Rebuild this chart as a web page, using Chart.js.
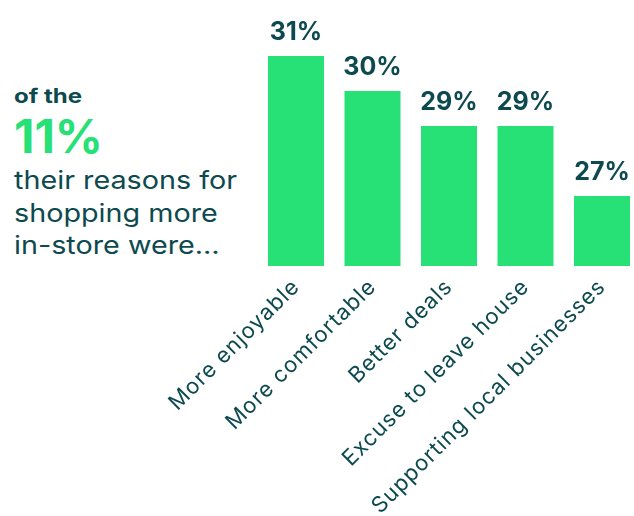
<!DOCTYPE html>
<html>
<head>
<meta charset="utf-8">
<script src="https://cdn.jsdelivr.net/npm/chart.js@4.4.1/dist/chart.umd.min.js"></script>
<style>
  html, body { margin: 0; padding: 0; background: #ffffff; overflow: hidden; width: 634px; height: 516px; }
  #wrap { position: absolute; left: 0; top: 0; width: 642px; height: 516px; }
  .intro { position: absolute; left: 14px; color: #0d4a50; font-family: Inter, sans-serif; white-space: nowrap; line-height: 1; transform-origin: 0 0; }
  .lead { font-size: 20px; font-weight: 700; top: 85.7px; transform: scaleX(1.2); }
  .big { font-size: 46px; font-weight: 700; color: #27e176; top: 113.2px; transform: scaleX(1.03); }
  .body { font-size: 25px; font-weight: 400; transform: scaleX(1.15); }
</style>
</head>
<body>
<div class="intro lead">of the</div>
<div class="intro big">11%</div>
<div class="intro body" style="top:168.4px">their reasons for</div>
<div class="intro body" style="top:200.9px">shopping more</div>
<div class="intro body" style="top:233.4px">in-store were…</div>
<div id="wrap"><canvas id="chart"></canvas></div>
<script>
// Reasons given for shopping more in-store, share of respondents (%)
const categories = [
  'More enjoyable',
  'More comfortable',
  'Better deals',
  'Excuse to leave house',
  'Supporting local businesses'
];
const shares = [31, 30, 29, 29, 27];

const TEAL = '#0d4a50';
const GREEN = '#27e176';

// Slightly tracked-out lettering for the category labels
const trackedLabels = {
  id: 'trackedLabels',
  beforeDraw(chart) { chart.ctx.letterSpacing = '1px'; },
  beforeDatasetsDraw(chart) { chart.ctx.letterSpacing = '0px'; }
};

// Percentage labels above each bar
const valueLabels = {
  id: 'valueLabels',
  afterDatasetsDraw(chart) {
    const { ctx } = chart;
    const meta = chart.getDatasetMeta(0);
    ctx.save();
    ctx.letterSpacing = '0px';
    ctx.font = '700 25px Inter, sans-serif';
    ctx.fillStyle = TEAL;
    ctx.textAlign = 'center';
    ctx.textBaseline = 'alphabetic';
    meta.data.forEach((bar, i) => {
      ctx.fillText(shares[i] + '%', bar.x, bar.y - 16);
    });
    ctx.restore();
  }
};

new Chart(document.getElementById('chart'), {
  type: 'bar',
  data: {
    labels: categories,
    datasets: [{
      data: shares,
      backgroundColor: GREEN,
      borderWidth: 0,
      categoryPercentage: 1,
      barPercentage: 0.732
    }]
  },
  options: {
    responsive: true,
    maintainAspectRatio: false,
    animation: false,
    layout: { padding: { left: 257.75, right: 1.75, top: 56, bottom: 0 } },
    plugins: { legend: { display: false }, tooltip: { enabled: false } },
    scales: {
      y: {
        display: false,
        min: 25,
        max: 31
      },
      x: {
        grid: { display: false, drawTicks: false },
        border: { display: false },
        ticks: {
          color: TEAL,
          font: { family: 'Inter, sans-serif', size: 22, weight: '400' },
          minRotation: 45,
          maxRotation: 45,
          padding: 8,
          autoSkip: false
        },
        afterFit(axis) { axis.height = 250; }
      }
    }
  },
  plugins: [trackedLabels, valueLabels]
});
</script>
</body>
</html>
